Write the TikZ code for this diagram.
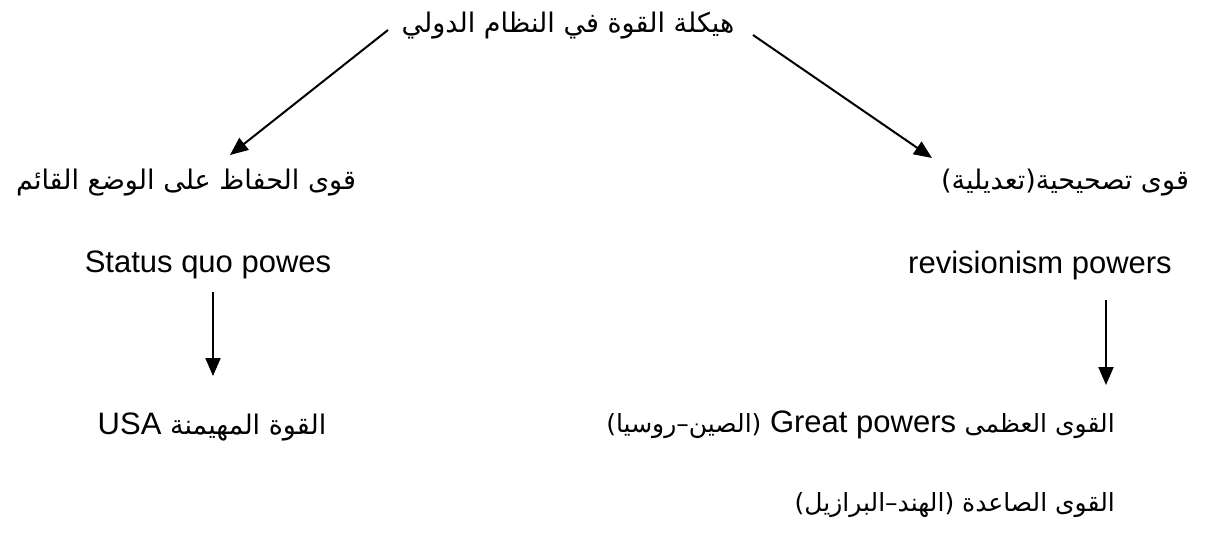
\documentclass[tikz,border=0pt]{standalone}
\usepackage{fontspec}
\setmainfont{Liberation Sans}
\newfontfamily\arabicfont[Script=Arabic]{DejaVu Sans}
\TeXXeTstate=1
\usetikzlibrary{arrows.meta}
\newcommand\arbtxt[1]{{\fontsize{27}{32}\arabicfont #1}}
\newcommand\arbsm[1]{{\fontsize{25}{30}\arabicfont #1}}
\begin{document}
\begin{tikzpicture}[x=1pt,y=-1pt,
  lbl/.style={font=\fontsize{31}{38}\selectfont, inner sep=0pt},
  link/.style={line width=2pt, -{Triangle[length=18pt,width=15pt]}}]
\useasboundingbox[fill=white] (0,0) rectangle (1205,541);

\node[lbl] (title) at (568,26) {\beginR\arbtxt{هيكلة القوة في النظام الدولي}\endR};
\node[lbl] (lh) at (186,183) {\beginR\arbtxt{قوى الحفاظ على الوضع القائم}\endR};
\node[lbl] (rh) at (1065,183) {\beginR\arbtxt{قوى تصحيحية(تعديلية)}\endR};
\node[lbl] (sq) at (208,265) {Status quo powes};
\node[lbl] (rv) at (1040,265) {revisionism powers};
\node[lbl] (usa) at (212,427) {\beginR\arbtxt{القوة المهيمنة} \beginL USA\endL\endR};
\node[lbl,anchor=east] (gp) at (1115,425) {\beginR\arbsm{القوى العظمى} \beginL Great powers\endL{} \arbsm{(الصين–روسيا)}\endR};
\node[lbl,anchor=east] (rise) at (1115,505) {\beginR\arbsm{القوى الصاعدة (الهند–البرازيل)}\endR};

\coordinate (t1) at (388,30);
\coordinate (h1) at (230,155);
\coordinate (t2) at (753,35);
\coordinate (h2) at (932,158);
\coordinate (s1) at (213,292);
\coordinate (e1) at (213,376);
\coordinate (s2) at (1106,300);
\coordinate (e2) at (1106,385);

\draw[link] (t1) -- (h1);
\draw[link] (t2) -- (h2);
\draw[link] (s1) -- (e1);
\draw[link] (s2) -- (e2);
\end{tikzpicture}
\end{document}
